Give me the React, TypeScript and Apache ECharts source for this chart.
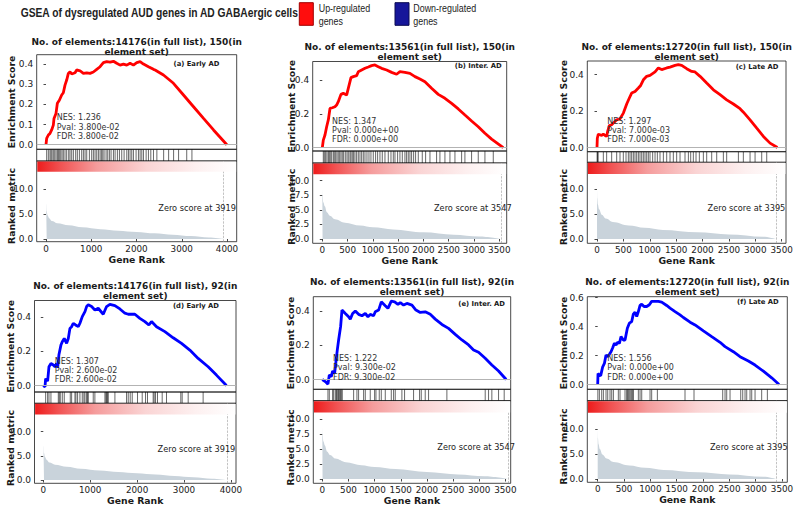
import React, { useEffect, useRef } from "react";
import * as echarts from "echarts";

// ---------------- data ----------------
const stageNames = ["Early AD", "Inter. AD", "Late AD", "Early AD", "Inter. AD", "Late AD"];
const panelLetters = ["a", "b", "c", "d", "e", "f"];
const fullListSizes = [14176, 13561, 12720, 14176, 13561, 12720];
const geneSetSizes = [150, 150, 150, 92, 92, 92];
const nesValues = ["1.236", "1.347", "1.297", "1.307", "1.222", "1.556"];
const pValues = ["3.800e-02", "0.000e+00", "7.000e-03", "2.600e-02", "9.300e-02", "0.000e+00"];
const fdrValues = ["3.800e-02", "0.000e+00", "7.000e-03", "2.600e-02", "9.300e-02", "0.000e+00"];
const zeroScores = [3919, 3547, 3395, 3919, 3547, 3395];

const esTicks = [
  [0, 0.1, 0.2, 0.3, 0.4],
  [0, 0.2, 0.4],
  [0, 0.2, 0.4],
  [0, 0.2, 0.4],
  [0, 0.2, 0.4],
  [0, 0.2, 0.4, 0.6],
];
const metricTicks = [
  [0, 5, 10],
  [0, 2.5, 5, 7.5, 10],
  [0, 5, 10],
  [0, 5, 10],
  [0, 2.5, 5, 7.5, 10],
  [0, 5, 10],
];
const rankTicks4000 = [0, 1000, 2000, 3000, 4000];
const rankTicks3500 = [0, 500, 1000, 1500, 2000, 2500, 3000, 3500];

const esA = [[0,0],[15,0.031],[52,0.048],[88,0.056],[125,0.073],[162,0.097],[177,0.13],[221,0.155],[251,0.205],[295,0.22],[347,0.246],[383,0.257],[420,0.295],[457,0.32],[494,0.353],[531,0.361],[568,0.35],[642,0.356],[678,0.37],[752,0.366],[826,0.353],[900,0.356],[973,0.353],[1047,0.36],[1121,0.373],[1195,0.386],[1268,0.406],[1342,0.411],[1416,0.409],[1490,0.413],[1563,0.403],[1637,0.394],[1711,0.399],[1785,0.394],[1858,0.403],[1932,0.394],[2006,0.406],[2080,0.411],[2154,0.399],[2264,0.386],[2375,0.373],[2411,0.37],[2596,0.345],[2817,0.304],[3038,0.246],[3260,0.188],[3481,0.13],[3702,0.073],[3997,0]];
const esB = [[0,0],[20,0.045],[53,0.075],[86,0.124],[119,0.164],[152,0.232],[198,0.236],[250,0.242],[283,0.252],[316,0.272],[369,0.315],[415,0.321],[481,0.311],[514,0.351],[567,0.414],[613,0.42],[679,0.426],[712,0.449],[778,0.459],[844,0.469],[910,0.477],[975,0.485],[1041,0.489],[1107,0.479],[1173,0.469],[1272,0.459],[1371,0.445],[1469,0.434],[1535,0.449],[1634,0.445],[1733,0.439],[1832,0.42],[1931,0.406],[2030,0.39],[2161,0.351],[2293,0.315],[2425,0.292],[2557,0.262],[2689,0.229],[2821,0.193],[2952,0.158],[3084,0.124],[3216,0.085],[3348,0.051],[3578,0]];
const esC = [[0,0],[6,0.051],[25,0.073],[57,0.07],[88,0.066],[120,0.073],[152,0.066],[183,0.061],[202,0.088],[234,0.121],[278,0.125],[310,0.134],[373,0.152],[436,0.158],[500,0.189],[563,0.239],[613,0.272],[657,0.299],[721,0.308],[784,0.327],[828,0.341],[879,0.372],[942,0.391],[1005,0.396],[1100,0.415],[1163,0.437],[1226,0.428],[1321,0.437],[1384,0.442],[1479,0.451],[1542,0.455],[1605,0.451],[1700,0.433],[1795,0.418],[1858,0.415],[1953,0.391],[2079,0.354],[2206,0.317],[2332,0.29],[2458,0.262],[2585,0.239],[2711,0.213],[2775,0.194],[2901,0.152],[3028,0.106],[3154,0.061],[3280,0.024],[3419,0]];
const esD = [[0,0],[36,-0.008],[50,0.041],[92,0.025],[121,0.11],[163,0.129],[213,0.12],[249,0.11],[284,0.129],[305,0.104],[334,0.182],[376,0.237],[405,0.257],[447,0.276],[497,0.247],[533,0.276],[568,0.335],[604,0.345],[639,0.365],[689,0.355],[746,0.345],[781,0.365],[831,0.404],[888,0.433],[923,0.463],[959,0.473],[1030,0.463],[1100,0.443],[1171,0.453],[1278,0.418],[1349,0.463],[1420,0.476],[1526,0.469],[1633,0.449],[1740,0.424],[1811,0.418],[1953,0.418],[2059,0.394],[2166,0.375],[2251,0.355],[2308,0.375],[2414,0.345],[2592,0.316],[2769,0.28],[2947,0.247],[3124,0.208],[3302,0.159],[3515,0.11],[3692,0.061],[3905,0]];
const esE = [[0,0],[57,-0.012],[108,-0.027],[134,0.027],[172,0.017],[197,0.05],[236,0.037],[261,0.105],[287,0.173],[312,0.231],[331,0.27],[350,0.309],[376,0.406],[440,0.386],[503,0.367],[535,0.353],[580,0.386],[631,0.4],[694,0.381],[758,0.373],[822,0.386],[873,0.367],[917,0.381],[981,0.373],[1013,0.396],[1077,0.406],[1128,0.454],[1204,0.431],[1255,0.416],[1319,0.458],[1383,0.454],[1446,0.439],[1491,0.45],[1554,0.435],[1618,0.445],[1714,0.435],[1790,0.406],[1873,0.392],[1968,0.396],[2064,0.381],[2160,0.353],[2287,0.322],[2414,0.299],[2542,0.264],[2669,0.231],[2797,0.202],[2892,0.173],[2988,0.159],[3115,0.124],[3242,0.085],[3370,0.05],[3516,0]];
const esF = [[0,0],[6,0.076],[32,0.065],[57,0.06],[76,0.092],[95,0.122],[127,0.145],[158,0.203],[190,0.192],[222,0.208],[253,0.226],[285,0.254],[317,0.284],[348,0.273],[380,0.291],[412,0.284],[443,0.33],[487,0.307],[519,0.307],[563,0.388],[601,0.423],[646,0.434],[677,0.485],[709,0.499],[741,0.469],[772,0.503],[804,0.545],[836,0.554],[880,0.538],[931,0.538],[981,0.55],[1025,0.573],[1089,0.573],[1152,0.573],[1215,0.568],[1310,0.545],[1374,0.527],[1469,0.503],[1563,0.48],[1627,0.462],[1754,0.43],[1849,0.411],[2007,0.37],[2165,0.33],[2323,0.291],[2418,0.261],[2576,0.226],[2703,0.192],[2861,0.162],[2988,0.134],[3146,0.092],[3304,0.046],[3444,0]];

const hitsA = [15,52,88,111,133,162,192,221,251,273,295,325,354,383,420,457,502,531,568,605,656,693,738,789,826,863,900,959,1010,1047,1084,1121,1158,1195,1224,1254,1283,1328,1364,1401,1438,1490,1527,1578,1623,1674,1726,1785,1822,1858,1895,1932,1991,2043,2080,2117,2154,2213,2264,2316,2375,2450,2600,2710,2820,2930,3110,3225];
const hitsB = [20,40,66,92,119,138,158,185,217,237,264,290,316,343,369,395,422,455,488,514,547,567,593,619,646,679,712,745,778,811,844,883,923,962,1008,1054,1094,1140,1186,1239,1305,1358,1404,1437,1489,1535,1582,1634,1667,1700,1733,1766,1806,1845,1898,1977,2043,2129,2260,2326,2425,2524,2623,2755,2820,2952,3084,3216,3381];
const hitsC = [2,10,22,120,183,278,373,436,499,550,594,626,657,689,720,752,784,815,847,878,910,942,973,1005,1055,1100,1144,1194,1258,1321,1384,1447,1510,1574,1668,1732,1776,1826,1877,1940,2016,2079,2174,2269,2395,2458,2680,2774,2901,2996,3122,3217];
const hitsD = [50,92,121,163,320,341,362,405,447,575,604,675,696,731,781,831,866,888,923,944,959,1065,1100,1314,1335,1349,1370,1385,1527,1775,1811,1853,1896,2009,2109,2180,2222,2343,2364,2393,2435,2535,2627,2932,2961,3089,3408];
const hitsE = [108,134,197,217,248,268,280,299,312,331,350,363,382,599,662,694,790,822,917,1000,1026,1089,1128,1204,1319,1363,1395,1522,1573,1745,1860,1892,1968,2032,2382,3115,3179,3242,3370,3478];
const hitsF = [3,32,76,108,158,190,234,266,298,392,424,519,551,563,582,601,627,646,665,677,772,804,836,994,1025,1133,1658,1829,2374,2418,2450,2513,2716,2754,2798,2830,2893,2925,2988,3114,3222];

const metricEarly = [[0,9.0],[5,7.0],[15,5.6],[35,4.8],[70,4.2],[130,3.6],[250,3.15],[500,2.75],[800,2.35],[1200,1.97],[1600,1.68],[2000,1.42],[2400,1.15],[2800,0.85],[3200,0.58],[3600,0.28],[3919,0]];
const metricInter = [[0,9.2],[5,7.5],[20,6.3],[50,5.6],[90,4.6],[150,4.0],[250,3.4],[450,2.8],[750,2.3],[1000,2.0],[1400,1.65],[2000,1.15],[2600,0.75],[3100,0.45],[3547,0]];
const metricLate = [[0,10.5],[5,8.2],[15,7.0],[40,6.0],[90,4.9],[170,4.1],[300,3.4],[600,2.7],[900,2.25],[1250,1.82],[1900,1.34],[2500,0.92],[3150,0.47],[3395,0]];

const esSeries = [esA, esB, esC, esD, esE, esF];
const hitSeries = [hitsA, hitsB, hitsC, hitsD, hitsE, hitsF];
const metricSeries = [metricEarly, metricInter, metricLate, metricEarly, metricInter, metricLate];
const rankTicks = [rankTicks4000, rankTicks3500, rankTicks3500, rankTicks4000, rankTicks3500, rankTicks3500];
const lineColors = ["#ff0000", "#ff0000", "#ff0000", "#0000ff", "#0000ff", "#0000ff"];

// ---------------- layout (pixels) ----------------
const LAYOUT = [
  { left: 36.7, right: 236.7, x0: 46, xs: 0.04525, esTop: 54.7, esBot: 149.3, es0: 144.7, esU: 202, bcBot: 161, gradBot: 171.7, metBot: 241.7, met0: 239, metU: 4.97, t1: 41.7, t2: 51.7, ylab: 11.7, rmY: 206, labR: 219.3, labY: 64, zR: 236, zY: 207.7, gr: 260 },
  { left: 312.7, right: 506.7, x0: 322.3, xs: 0.05057, esTop: 61.5, esBot: 151, es0: 147.7, esU: 169.25, bcBot: 163, gradBot: 174.3, metBot: 243.3, met0: 239, metU: 5.83, t1: 46.7, t2: 56.7, ylab: 291.7, rmY: 206.7, labR: 501.7, labY: 66, zR: 511.7, zY: 208.3, gr: 260 },
  { left: 587.3, right: 786, x0: 597, xs: 0.05276, esTop: 61, esBot: 151.7, es0: 147.5, esU: 182, bcBot: 162.3, gradBot: 174, metBot: 243.3, met0: 239, metU: 4.97, t1: 46.7, t2: 56.7, ylab: 563.3, rmY: 207, labR: 778.3, labY: 67.3, zR: 785.3, zY: 208.3, gr: 260 },
  { left: 34.5, right: 236, x0: 43.3, xs: 0.0469, esTop: 300.5, esBot: 392, es0: 385.5, esU: 170.5, bcBot: 403.3, gradBot: 414.5, metBot: 483.3, met0: 480, metU: 4.83, t1: 285.7, t2: 296, ylab: 10, rmY: 448, labR: 219, labY: 306, zR: 235.3, zY: 449, gr: 500.7 },
  { left: 313.3, right: 510.7, x0: 322.3, xs: 0.0523, esTop: 296.7, esBot: 389.3, es0: 379.5, esU: 171, bcBot: 400.7, gradBot: 412.5, metBot: 483.3, met0: 479, metU: 6.0, t1: 282.3, t2: 292.3, ylab: 290, rmY: 447.5, labR: 505, labY: 304, zR: 515, zY: 446.7, gr: 500 },
  { left: 587.3, right: 787.3, x0: 597.7, xs: 0.05266, esTop: 296.7, esBot: 389.3, es0: 384.5, esU: 145, bcBot: 400.7, gradBot: 412.7, metBot: 482.3, met0: 479, metU: 5.0, t1: 282.3, t2: 292.3, ylab: 563.3, rmY: 446.5, labR: 778.7, labY: 301.7, zR: 787.7, zY: 446.7, gr: 500 },
];

const FONT = "DejaVu Sans";
const SANS = "'Liberation Sans', Arial, sans-serif";
const INK = "#1a1a1a";

function txt(x: number, y: number, text: string, size: number, opts: any = {}) {
  return {
    type: "text",
    x,
    y,
    rotation: opts.rotation || 0,
    scaleX: opts.scaleX || 1,
    silent: true,
    z: 120,
    style: {
      text,
      fontSize: size,
      fontFamily: opts.family || FONT,
      fontWeight: opts.bold ? "bold" : "normal",
      fill: opts.fill || INK,
      align: opts.align || "center",
      verticalAlign: "middle",
    },
  };
}

function buildOption() {
  const grids: any[] = [];
  const xAxes: any[] = [];
  const yAxes: any[] = [];
  const series: any[] = [];
  const graphics: any[] = [];

  // header (condensed sans, like the reference)
  graphics.push(txt(20.7, 12, "GSEA of dysregulated AUD genes in AD GABAergic cells", 13.5, { bold: true, align: "left", family: SANS, fill: "#222", scaleX: 0.76 }));
  graphics.push({ type: "rect", silent: true, shape: { x: 299.3, y: 2.7, width: 14, height: 22.6 }, style: { fill: "#ff0d0d", stroke: "#a00000", lineWidth: 1 } });
  graphics.push(txt(318.7, 8.5, "Up-regulated", 11, { align: "left", family: SANS, fill: "#222", scaleX: 0.81 }));
  graphics.push(txt(318.7, 21.5, "genes", 11, { align: "left", family: SANS, fill: "#222", scaleX: 0.81 }));
  graphics.push({ type: "rect", silent: true, shape: { x: 395, y: 2.7, width: 14, height: 22.6 }, style: { fill: "#16169a", stroke: "#0b0b50", lineWidth: 1 } });
  graphics.push(txt(413.3, 8.5, "Down-regulated", 11, { align: "left", family: SANS, fill: "#222", scaleX: 0.81 }));
  graphics.push(txt(413.3, 21.5, "genes", 11, { align: "left", family: SANS, fill: "#222", scaleX: 0.81 }));

  LAYOUT.forEach((l, i) => {
    const w = l.right - l.left;
    const xMin = (l.left - l.x0) / l.xs;
    const xMax = (l.right - l.x0) / l.xs;
    const g0 = grids.length;
    const gridBase = { show: true, borderColor: INK, borderWidth: 0.8, backgroundColor: "transparent", containLabel: false, outerBoundsMode: "none" };
    grids.push({ ...gridBase, left: l.left, top: l.esTop, width: w, height: l.esBot - l.esTop });
    grids.push({ ...gridBase, left: l.left, top: l.esBot, width: w, height: l.bcBot - l.esBot });
    grids.push({ ...gridBase, left: l.left, top: l.bcBot, width: w, height: l.metBot - l.bcBot });

    xAxes.push({ gridIndex: g0, type: "value", min: xMin, max: xMax, show: false });
    xAxes.push({ gridIndex: g0 + 1, type: "value", min: xMin, max: xMax, show: false });
    xAxes.push({
      gridIndex: g0 + 2,
      type: "value",
      min: xMin,
      max: xMax,
      name: "Gene Rank",
      nameLocation: "middle",
      nameGap: l.gr - l.metBot - 4.6,
      nameTextStyle: { fontSize: 9.3, fontWeight: "bold", fontFamily: FONT, color: INK },
      axisLine: { show: false },
      axisTick: { show: true, customValues: rankTicks[i], length: 2.5, lineStyle: { color: INK, width: 0.8 } },
      axisLabel: { customValues: rankTicks[i], formatter: (v: number) => String(Math.round(v)), fontSize: 8.8, fontFamily: FONT, color: INK, margin: 2.3 },
      splitLine: { show: false },
    });

    const tickFmt = (v: number) => v.toFixed(1);
    yAxes.push({
      gridIndex: g0,
      type: "value",
      min: -(l.esBot - l.es0) / l.esU,
      max: (l.es0 - l.esTop) / l.esU,
      axisLine: { show: false },
      axisTick: { show: true, customValues: esTicks[i], length: 2.5, lineStyle: { color: INK, width: 0.8 } },
      axisLabel: { customValues: esTicks[i], formatter: tickFmt, fontSize: 9, fontFamily: FONT, color: INK, margin: 3.5 },
      splitLine: { show: false },
    });
    yAxes.push({ gridIndex: g0 + 1, type: "value", min: 0, max: 1, show: false });
    yAxes.push({
      gridIndex: g0 + 2,
      type: "value",
      min: -(l.metBot - l.met0) / l.metU,
      max: (l.met0 - l.bcBot) / l.metU,
      axisLine: { show: false },
      axisTick: { show: true, customValues: metricTicks[i], length: 2.5, lineStyle: { color: INK, width: 0.8 } },
      axisLabel: { customValues: metricTicks[i], formatter: tickFmt, fontSize: 9, fontFamily: FONT, color: INK, margin: 3.5 },
      splitLine: { show: false },
    });

    // ranked metric area
    series.push({
      type: "line",
      xAxisIndex: g0 + 2,
      yAxisIndex: g0 + 2,
      data: metricSeries[i],
      symbol: "none",
      smooth: 0.35,
      smoothMonotone: "x",
      lineStyle: { width: 0, color: "#C9D3DB" },
      areaStyle: { color: "#C9D3DB", opacity: 1 },
      silent: true,
      z: 2,
      markLine: {
        silent: true,
        symbol: "none",
        label: { show: false },
        lineStyle: { color: "#9a9a9a", width: 0.6, type: "dashed" },
        data: [{ xAxis: zeroScores[i] }],
      },
    });

    // hit barcode
    series.push({
      type: "custom",
      xAxisIndex: g0 + 1,
      yAxisIndex: g0 + 1,
      data: hitSeries[i].map((h) => [h, 0]),
      encode: { x: 0, y: 1 },
      silent: true,
      clip: true,
      renderItem: (_p: any, api: any) => {
        const x = api.value(0);
        const a = api.coord([x, 0]);
        const b = api.coord([x, 1]);
        return {
          type: "line",
          shape: { x1: a[0], y1: a[1], x2: b[0], y2: b[1] },
          style: { stroke: "#000", lineWidth: 0.7, opacity: 0.85 },
        };
      },
    });

    // running enrichment score
    series.push({
      type: "line",
      xAxisIndex: g0,
      yAxisIndex: g0,
      data: esSeries[i],
      symbol: "none",
      lineStyle: { color: lineColors[i], width: 2.8 },
      silent: true,
      clip: true,
      z: 3,
      markLine: {
        silent: true,
        symbol: "none",
        label: { show: false },
        lineStyle: { color: "#b3b3b3", width: 1.2, type: "solid" },
        data: [{ yAxis: 0 }],
      },
    });

    // colour bar
    graphics.push({
      type: "rect",
      silent: true,
      z: 100,
      shape: { x: l.left + 0.6, y: l.bcBot + 0.5, width: w - 1.2, height: l.gradBot - l.bcBot - 0.5 },
      style: {
        fill: {
          type: "linear",
          x: 0, y: 0, x2: 1, y2: 0,
          colorStops: [
            { offset: 0, color: "#ee1c1c" },
            { offset: 0.12, color: "#f15454" },
            { offset: 0.3, color: "#f59c9c" },
            { offset: 0.55, color: "#fad4d4" },
            { offset: 0.8, color: "#fdf0f0" },
            { offset: 1, color: "#ffffff" },
          ],
        },
      },
    });

    const cx = (l.left + l.right) / 2;
    graphics.push(txt(cx, l.t1, `No. of elements:${fullListSizes[i]}(in full list), ${geneSetSizes[i]}(in`, 9, { bold: true }));
    graphics.push(txt(cx, l.t2, "element set)", 9, { bold: true }));
    graphics.push(txt(l.labR, l.labY, `(${panelLetters[i]}) ${stageNames[i]}`, 6.8, { bold: true, align: "right" }));

    const h = l.esBot - l.esTop;
    const ax = l.left + 0.1 * w;
    graphics.push(txt(ax, l.esBot - 0.3 * h - 3, `NES: ${nesValues[i]}`, 8, { align: "left", fill: "#333" }));
    graphics.push(txt(ax, l.esBot - 0.2 * h - 3, `Pval: ${pValues[i]}`, 8, { align: "left", fill: "#333" }));
    graphics.push(txt(ax, l.esBot - 0.1 * h - 3, `FDR: ${fdrValues[i]}`, 8, { align: "left", fill: "#333" }));

    graphics.push(txt(l.ylab, (l.esTop + l.esBot) / 2, "Enrichment Score", 9.3, { bold: true, rotation: Math.PI / 2 }));
    graphics.push(txt(l.ylab, l.rmY, "Ranked metric", 9.3, { bold: true, rotation: Math.PI / 2 }));
    graphics.push(txt(l.zR, l.zY, `Zero score at ${zeroScores[i]}`, 8.2, { align: "right", fill: "#222" }));
  });

  return {
    animation: false,
    backgroundColor: "#ffffff",
    grid: grids,
    xAxis: xAxes,
    yAxis: yAxes,
    series,
    graphic: graphics,
  };
}

export default function App() {
  const ref = useRef<HTMLDivElement>(null);
  useEffect(() => {
    if (!ref.current) return;
    const chart = echarts.init(ref.current, undefined, { renderer: "svg" });
    chart.setOption(buildOption() as any);
    return () => chart.dispose();
  }, []);
  return (
    <div
      ref={ref}
      style={{ position: "absolute", left: 0, top: 0, width: 797, height: 508, background: "#fff" }}
    />
  );
}
